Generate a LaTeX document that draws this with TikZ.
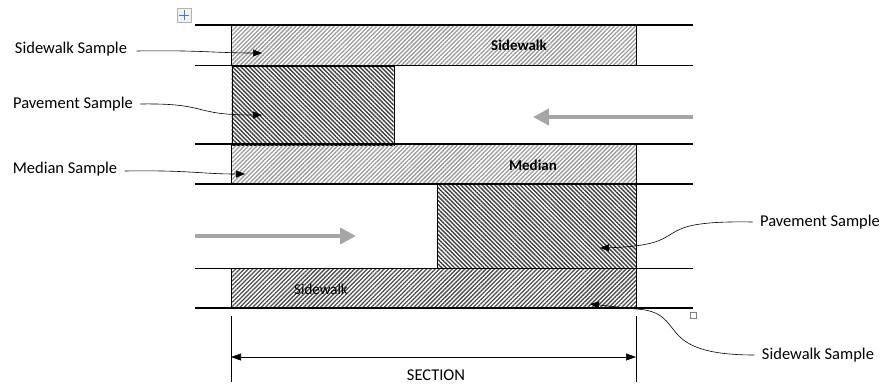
\documentclass[tikz,border=0pt]{standalone}
\usepackage{fontspec}
\setmainfont{Carlito}
\usepackage{tikz}
\usetikzlibrary{arrows.meta, patterns.meta, positioning, calc}
\definecolor{FlowGray}{HTML}{A6A6A6}
\definecolor{HatchGray}{HTML}{9A9A9A}
\definecolor{HandleBlue}{HTML}{3A7BD5}

\begin{document}
\begin{tikzpicture}[x=1pt, y=-1pt, every node/.style={font=\fontsize{16.5}{19}\selectfont}]
  \tikzset{
    lightbox/.style={rectangle, draw=black, thin, pattern={Lines[angle=45, distance=3pt, line width=1.3pt]}, pattern color=HatchGray, anchor=north west, inner sep=0pt},
    darkbox/.style={rectangle, draw=black, thin, pattern={Lines[angle=-45, distance=3pt, line width=1.4pt]}, pattern color=black!75, anchor=north west, inner sep=0pt},
    curb/.style={line width=1.7pt},
    edge/.style={line width=0.8pt},
    ptr/.style={-{Triangle[length=9pt, width=7pt]}, semithick},
    flow/.style={-{Triangle[length=16pt, width=16pt]}, line width=4pt, color=FlowGray},
    dim/.style={{Triangle[length=10pt, width=7pt]}-{Triangle[length=10pt, width=7pt]}, semithick}
  }
  \useasboundingbox (0,0) rectangle (888,386);

  % hatched samples
  \node[lightbox, minimum width=405pt, minimum height=40pt] (topwalk) at (231,25) {};
  \node[darkbox, minimum width=162pt, minimum height=79pt] (toppave) at (231,65) {};
  \node[lightbox, minimum width=405pt, minimum height=40pt] (median) at (231,144) {};
  \node[darkbox, minimum width=199pt, minimum height=84pt] (botpave) at (437,184) {};
  \node[lightbox, pattern color=black!70, minimum width=405pt, minimum height=40pt] (botwalk) at (231,268) {};

  % lane lines
  \draw[curb] (195,25) -- (693,25);
  \draw[edge] (195,65) -- (693,65);
  \draw[curb] (195,144) -- (693,144);
  \draw[curb] (195,184) -- (693,184);
  \draw[edge] (195,268) -- (693,268);
  \draw[curb] (195,308) -- (693,308);

  \node[font=\fontsize{15}{18}\selectfont\bfseries] (topwalktxt) at (519,45) {Sidewalk};
  \node[font=\fontsize{15}{18}\selectfont\bfseries] (mediantxt) at (533,165) {Median};
  \node[font=\fontsize{15}{18}\selectfont] (botwalktxt) at (321,289) {Sidewalk};

  % traffic direction
  \coordinate (inR) at (693,117);
  \coordinate (inL) at (533,117);
  \coordinate (outL) at (195,236);
  \coordinate (outR) at (356,236);
  \draw[flow] (inR) -- (inL);
  \draw[flow] (outL) -- (outR);

  % sample labels
  \node (swlabA) at (71,49) {Sidewalk Sample};
  \node (pvlabA) at (73,104) {Pavement Sample};
  \node (mdlab) at (65,169) {Median Sample};
  \node (pvlabB) at (820,222) {Pavement Sample};
  \node (swlabB) at (818,355) {Sidewalk Sample};

  \coordinate (swtipA) at (262,53);
  \coordinate (pvtipA) at (262,115);
  \coordinate (mdtip) at (245,174);
  \coordinate (pvtipB) at (600,248);
  \coordinate (swtipB) at (590,304);

  \draw[ptr] (swlabA.east) ++(6,2) .. controls (200,50) and (215,53) .. (swtipA);
  \draw[ptr] (pvlabA.east) ++(4,0) .. controls (210,103) and (190,115) .. (pvtipA);
  \draw[ptr] (mdlab.east) ++(4,2) .. controls (190,170) and (200,174) .. (mdtip);
  \draw[ptr] (pvlabB.west) ++(-4,0) .. controls (640,220) and (700,245) .. (pvtipB);
  \draw[ptr] (swlabB.west) ++(-4,0) .. controls (650,355) and (690,312) .. (636,309) -- (swtipB);

  % section dimension
  \coordinate (secL) at (231,316);
  \coordinate (secR) at (636,316);
  \draw[thin] (secL) -- ++(0,66);
  \draw[thin] (secR) -- ++(0,66);
  \draw[dim] ($(secL)+(0,41)$) -- ($(secR)+(0,41)$);
  \node (section) at (436,375) {SECTION};

  % editor handles
  \draw[gray!60, fill=gray!10] (177,8) rectangle (191,22);
  \draw[HandleBlue, semithick] (179,15) -- (189,15) (184,10) -- (184,20);
  \draw[gray] (690,312) rectangle (696,318);
\end{tikzpicture}
\end{document}
